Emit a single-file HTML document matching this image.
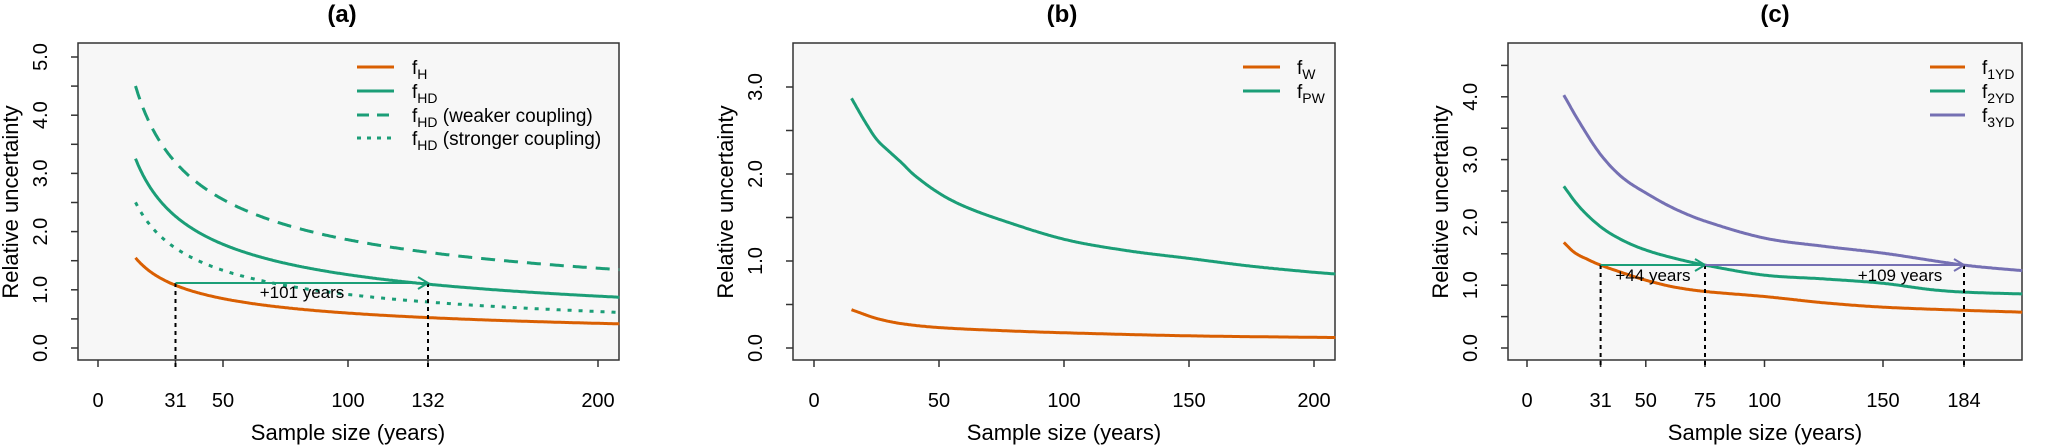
<!DOCTYPE html>
<html><head><meta charset="utf-8">
<style>
html,body{margin:0;padding:0;background:#fff;}
svg{display:block;font-family:"Liberation Sans",Arial,sans-serif;}
</style></head>
<body>
<svg id="s" width="2050" height="445" viewBox="0 0 2050 445" xmlns="http://www.w3.org/2000/svg">
<rect x="0" y="0" width="2050" height="445" fill="#fff"/>
<g font-weight="bold" font-size="24" text-anchor="middle">
<text x="342" y="22">(a)</text>
<text x="1062" y="22">(b)</text>
<text x="1775" y="22">(c)</text>
</g>
<rect x="78" y="43" width="541" height="317" fill="#f7f7f7" stroke="#333" stroke-width="1.5"/>
<rect x="793" y="43" width="542" height="317" fill="#f7f7f7" stroke="#333" stroke-width="1.5"/>
<rect x="1508" y="43" width="514" height="317" fill="#f7f7f7" stroke="#333" stroke-width="1.5"/>
<g id="g"></g>
<g font-size="20" text-anchor="middle" fill="#000">
<text x="98" y="407">0</text><text x="175.5" y="407">31</text><text x="223" y="407">50</text><text x="348" y="407">100</text><text x="428" y="407">132</text><text x="598" y="407">200</text>
<text x="814" y="407">0</text><text x="939" y="407">50</text><text x="1064" y="407">100</text><text x="1189" y="407">150</text><text x="1314" y="407">200</text>
<text x="1527" y="407">0</text><text x="1600.6" y="407">31</text><text x="1645.8" y="407">50</text><text x="1705" y="407">75</text><text x="1764.5" y="407">100</text><text x="1883" y="407">150</text><text x="1964" y="407">184</text>
</g>
<g font-size="22" text-anchor="middle">
<text x="348" y="440">Sample size (years)</text>
<text x="1064" y="440">Sample size (years)</text>
<text x="1765" y="440">Sample size (years)</text>
<text transform="translate(18,202) rotate(-90)">Relative uncertainty</text>
<text transform="translate(733,202) rotate(-90)">Relative uncertainty</text>
<text transform="translate(1448,202) rotate(-90)">Relative uncertainty</text>
</g>
<g font-size="20" text-anchor="middle">
<text transform="translate(47,348) rotate(-90)">0.0</text>
<text transform="translate(47,289.8) rotate(-90)">1.0</text>
<text transform="translate(47,231.6) rotate(-90)">2.0</text>
<text transform="translate(47,173.4) rotate(-90)">3.0</text>
<text transform="translate(47,115.2) rotate(-90)">4.0</text>
<text transform="translate(47,57) rotate(-90)">5.0</text>
<text transform="translate(762,348) rotate(-90)">0.0</text>
<text transform="translate(762,261) rotate(-90)">1.0</text>
<text transform="translate(762,174) rotate(-90)">2.0</text>
<text transform="translate(762,87) rotate(-90)">3.0</text>
<text transform="translate(1477,348) rotate(-90)">0.0</text>
<text transform="translate(1477,285.2) rotate(-90)">1.0</text>
<text transform="translate(1477,222.4) rotate(-90)">2.0</text>
<text transform="translate(1477,159.6) rotate(-90)">3.0</text>
<text transform="translate(1477,96.8) rotate(-90)">4.0</text>
</g>
<g font-size="19">
<text x="412" y="74">f<tspan font-size="14" dy="5">H</tspan></text>
<text x="412" y="98">f<tspan font-size="14" dy="5">HD</tspan></text>
<text x="412" y="122">f<tspan font-size="14" dy="5">HD</tspan><tspan dy="-5"> (weaker coupling)</tspan></text>
<text x="412" y="145">f<tspan font-size="14" dy="5">HD</tspan><tspan dy="-5"> (stronger coupling)</tspan></text>
<text x="1297" y="74">f<tspan font-size="14" dy="5">W</tspan></text>
<text x="1297" y="98">f<tspan font-size="14" dy="5">PW</tspan></text>
<text x="1982" y="74">f<tspan font-size="14" dy="5">1YD</tspan></text>
<text x="1982" y="98">f<tspan font-size="14" dy="5">2YD</tspan></text>
<text x="1982" y="122">f<tspan font-size="14" dy="5">3YD</tspan></text>
</g>
<g font-size="17" text-anchor="middle">
<text x="302" y="298">+101 years</text>
<text x="1653" y="281">+44 years</text>
<text x="1900" y="281">+109 years</text>
</g>
</svg>
<script>
var g=document.getElementById('g'),NS='http://www.w3.org/2000/svg';
function el(t,a){var e=document.createElementNS(NS,t);for(var k in a)e.setAttribute(k,a[k]);g.appendChild(e);return e;}
var O='#D95F02',G='#1B9E77',P='#7570B3';
function line(x1,y1,x2,y2,c,w,d){var a={x1:x1,y1:y1,x2:x2,y2:y2,stroke:c,'stroke-width':w};if(d)a['stroke-dasharray']=d;el('line',a);}
// ticks
function yt(bx,y0,s,n){for(var i=0;i<=n;i++){var y=y0-i*0.5*s;line(bx-7,y,bx,y,'#333',1.5);}}
yt(78,348,58.2,10);yt(793,348,87,6);yt(1508,348,62.8,9);
function xt(xs){xs.forEach(function(x){line(x,360,x,367,'#333',1.5);});}
xt([98,175.5,223,348,428,598]);xt([814,939,1064,1189,1314]);xt([1527,1600.6,1645.8,1705,1764.5,1883,1964]);
// helpers
function fpath(fn,x0,sx,y0,sy,n0,n1,c,d){var s='';for(var n=n0;n<=n1;n+=0.5){var x=x0+sx*n,y=y0-sy*fn(n);s+=(s?'L':'M')+x.toFixed(1)+','+y.toFixed(1);}
var a={d:s,fill:'none',stroke:c,'stroke-width':3};if(d)a['stroke-dasharray']=d;el('path',a);}
function interp(pts){return function(n){for(var i=0;i<pts.length-1;i++){var a=pts[i],b=pts[i+1];if(n<=b[0]){
 var p0=pts[Math.max(i-1,0)],p3=pts[Math.min(i+2,pts.length-1)];var t=(n-a[0])/(b[0]-a[0]);
 var m1=(b[1]-p0[1])/(b[0]-p0[0])*(b[0]-a[0]),m2=(p3[1]-a[1])/(p3[0]-a[0])*(b[0]-a[0]);
 var t2=t*t,t3=t2*t;return (2*t3-3*t2+1)*a[1]+(t3-2*t2+t)*m1+(-2*t3+3*t2)*b[1]+(t3-t2)*m2;}}return pts[pts.length-1][1];};}
// panel a
var ax=98,as=2.5,ay=348,ays=58.2;
fpath(function(n){return 6.0/Math.sqrt(n);},ax,as,ay,ays,15,208.5,O);
fpath(function(n){return 12.6/Math.sqrt(n);},ax,as,ay,ays,15,208.5,G);
fpath(function(n){return 0.19+16.7/Math.sqrt(n);},ax,as,ay,ays,15,208.5,G,'14,9');
fpath(function(n){return -0.08+10/Math.sqrt(n);},ax,as,ay,ays,15,208.5,G,'4,7');
line(175.5,283,175.5,367,'#000',2,'4,4');line(428,283,428,367,'#000',2,'4,4');
line(175.5,283,426,283,G,2);el('path',{d:'M418,277L428,283L418,289',fill:'none',stroke:G,'stroke-width':2});
// legends
function leg(x1,x2,y,c,d){line(x1,y,x2,y,c,3,d);}
leg(357,394,67,O);leg(357,394,91,G);leg(357,394,115,G,'12,8');leg(357,394,138,G,'4,6');
leg(1243,1280,67,O);leg(1243,1280,91,G);
leg(1930,1965,67,O);leg(1930,1965,91,G);leg(1930,1965,115,P);
// panel b
var bx=814,by=348,bys=87;
fpath(interp([[15,2.87],[20,2.62],[25,2.4],[30,2.26],[35,2.13],[40,1.99],[50,1.78],[60,1.63],[75,1.47],[100,1.25],[125,1.12],[150,1.03],[175,0.94],[200,0.87],[209,0.85]]),bx,2.5,by,bys,15,208.5,G);
fpath(interp([[15,0.44],[25,0.34],[35,0.28],[50,0.235],[75,0.2],[100,0.175],[150,0.14],[209,0.12]]),bx,2.5,by,bys,15,208.5,O);
// panel c
var cx=1527,cs=2.375,cy=348,cys=62.8;
fpath(interp([[15,4.06],[22,3.6],[31,3.08],[40,2.72],[50,2.47],[62,2.22],[75,2.02],[100,1.75],[125,1.62],[150,1.51],[184,1.32],[209,1.23]]),cx,cs,cy,cys,15.5,208.5,P);
fpath(interp([[15,2.6],[22,2.25],[31,1.93],[40,1.72],[50,1.56],[62,1.43],[75,1.32],[100,1.16],[125,1.1],[150,1.03],[170,0.93],[184,0.89],[209,0.86]]),cx,cs,cy,cys,15.5,208.5,G);
fpath(interp([[15,1.7],[20,1.52],[25,1.42],[31,1.32],[40,1.2],[50,1.08],[62,0.97],[75,0.9],[100,0.82],[125,0.72],[150,0.65],[184,0.6],[209,0.57]]),cx,cs,cy,cys,15.5,208.5,O);
line(1600.6,265,1600.6,367,'#000',2,'4,4');line(1705,265,1705,367,'#000',2,'4,4');line(1964,265,1964,367,'#000',2,'4,4');
line(1600.6,265,1703,265,G,2);el('path',{d:'M1695,259L1705,265L1695,271',fill:'none',stroke:G,'stroke-width':2});
line(1705,265,1962,265,P,2);el('path',{d:'M1954,259L1964,265L1954,271',fill:'none',stroke:P,'stroke-width':2});
</script>
</body></html>
